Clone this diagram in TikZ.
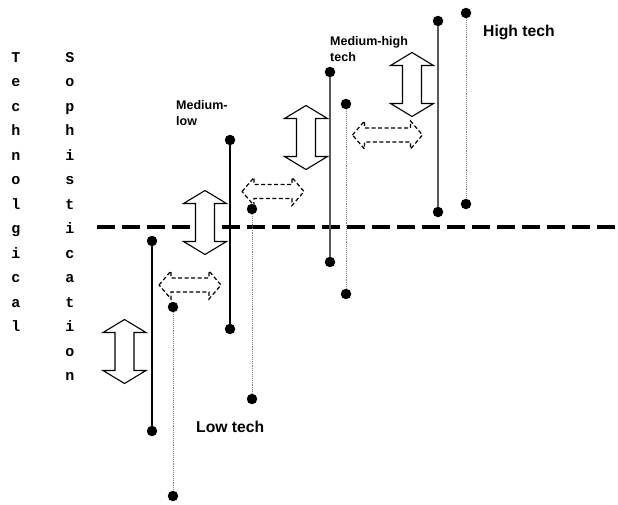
\documentclass[tikz,border=0pt]{standalone}
\usepackage{fontspec}
\setmainfont{Liberation Sans}
\newfontfamily\typewriter{Liberation Mono}
\begin{document}
\begin{tikzpicture}[x=1pt,y=-1pt,line join=miter,
  stem/.style={line width=1.1pt},
  fade/.style={line width=0.9pt,gray,densely dotted},
  spot/.style={circle,fill,inner sep=0pt,minimum size=10.5pt},
  letter/.style={font=\typewriter\bfseries\fontsize{15}{15}\selectfont,anchor=base,inner sep=0pt},
  tag/.style={font=\bfseries\fontsize{12.5}{16.5}\selectfont,align=left,anchor=north west,inner sep=0pt},
  bigtag/.style={font=\bfseries\fontsize{15.7}{18}\selectfont,anchor=base west,inner sep=0pt},
  vblock/.pic={\draw[line width=1.1pt,fill=white] (0,-32) -- (21.5,-19) -- (9.5,-19) -- (9.5,19)
    -- (21.5,19) -- (0,32) -- (-21.5,19) -- (-9.5,19) -- (-9.5,-19) -- (-21.5,-19) -- cycle;},
  hblock/.pic={\draw[line width=1.2pt,dash pattern=on 4pt off 2.5pt,fill=white] (-#1,0) -- ({-#1+12},-14)
    -- ({-#1+12},-7) -- ({#1-12},-7) -- ({#1-12},-14) -- (#1,0) -- ({#1-12},14) -- ({#1-12},7)
    -- ({-#1+12},7) -- ({-#1+12},14) -- cycle;}]
  \useasboundingbox (0,0) rectangle (618,504);
  % axis label
  \foreach \ch [count=\k from 0] in {T,e,c,h,n,o,l,g,i,c,a,l}
    \node[letter] (ta\k) at (16,{62+24.5*\k}) {\ch};
  \foreach \ch [count=\k from 0] in {S,o,p,h,i,s,t,i,c,a,t,i,o,n}
    \node[letter] (sb\k) at (70,{62+24.5*\k}) {\ch};
  % threshold
  \coordinate (th1) at (97,227);
  \coordinate (th2) at (618,227);
  \draw[line width=3.3pt,dash pattern=on 18pt off 7pt] (th1) -- (th2);
  % low tech
  \node[spot] (lo1) at (152,241) {};
  \node[spot] (lo2) at (152,431) {};
  \node[spot] (lo3) at (173,307) {};
  \node[spot] (lo4) at (173,496) {};
  \draw[stem] (lo1) -- (lo2);
  \draw[fade] (lo3) -- (lo4);
  % medium-low
  \node[spot] (ml1) at (230,140) {};
  \node[spot] (ml2) at (230,329) {};
  \node[spot] (ml3) at (252,209) {};
  \node[spot] (ml4) at (252,399) {};
  \draw[stem] (ml1) -- (ml2);
  \draw[fade] (ml3) -- (ml4);
  % medium-high
  \node[spot] (mh1) at (330,72) {};
  \node[spot] (mh2) at (330,262) {};
  \node[spot] (mh3) at (346,104) {};
  \node[spot] (mh4) at (346,294) {};
  \draw[stem,black!65] (mh1) -- (mh2);
  \draw[fade] (mh3) -- (mh4);
  % high tech
  \node[spot] (hi1) at (438,21) {};
  \node[spot] (hi2) at (438,212) {};
  \node[spot] (hi3) at (466,13) {};
  \node[spot] (hi4) at (466,204) {};
  \draw[stem,black!65] (hi1) -- (hi2);
  \draw[fade] (hi3) -- (hi4);
  % shifts
  \pic at (124.5,351.5) {vblock};
  \pic at (205,222.5) {vblock};
  \pic at (306,137.5) {vblock};
  \pic at (412,84.5) {vblock};
  \pic at (190,285) {hblock=31};
  \pic at (273,191.5) {hblock=31};
  \pic at (387.5,135) {hblock=35};
  % labels
  \node[bigtag] (lowtech) at (196,432) {Low tech};
  \node[tag] (medlow) at (176,100) {Medium-\\low};
  \node[tag] (medhigh) at (330,36) {Medium-high\\tech};
  \node[bigtag] (hightech) at (483,36) {High tech};
\end{tikzpicture}
\end{document}
